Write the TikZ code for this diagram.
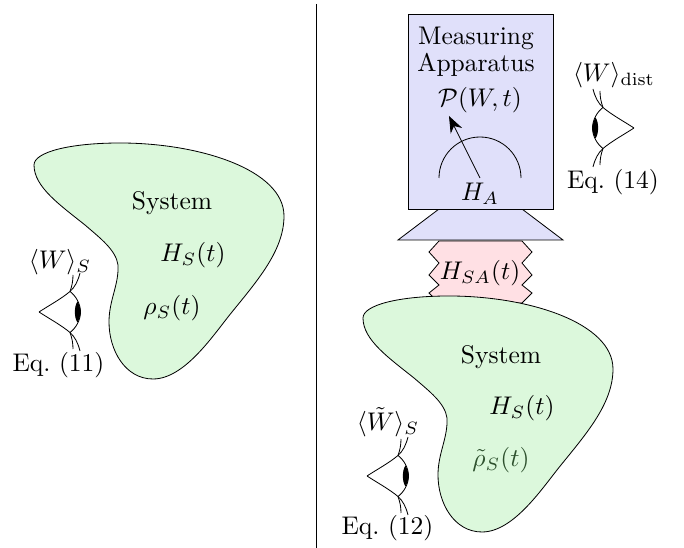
\documentclass[tikz,border=0pt]{standalone}
\usetikzlibrary{arrows.meta}
\definecolor{sysgreen}{RGB}{220,248,220}
\definecolor{appblue}{RGB}{224,224,250}
\definecolor{intpink}{RGB}{255,224,228}
\definecolor{rhogreen}{RGB}{45,80,45}
\newcommand{\blobpath}{(34,165) .. controls (34,152) and (70,143) .. (120,143)
  .. controls (200,143) and (284,170) .. (284,216)
  .. controls (284,250) and (258,280) .. (232,312)
  .. controls (214,334) and (185,379) .. (153,379)
  .. controls (125,379) and (109,350) .. (109,322)
  .. controls (109,300) and (119,285) .. (118,265)
  .. controls (116,250) and (100,238) .. (85,225)
  .. controls (60,205) and (34,187) .. (34,165) -- cycle}
\newcommand{\eyeshape}{%
  \draw[eyeline] (0,0) .. controls (-10,-6.5) and (-22,-13) .. (-31,-20.5)
     .. controls (-36,-25) and (-39,-31) .. (-41,-39);
  \draw[eyeline] (0,0) .. controls (-10,6.5) and (-22,13) .. (-31,20.5)
     .. controls (-36,25) and (-39,31) .. (-41,39);
  \draw[eyeline] (-31,-20.5) .. controls (-33,-26) and (-34,-31) .. (-34,-37);
  \draw[eyeline] (-31,20.5) .. controls (-33,26) and (-34,31) .. (-34,37);
  \draw[eyeline] (-31,-20.5) .. controls (-37,-16) and (-41.5,-8) .. (-41.5,0)
     .. controls (-41.5,8) and (-37,16) .. (-31,20.5);
  \fill (-38.5,-10.5) .. controls (-40.5,-7) and (-41.7,-3) .. (-41.7,0)
     .. controls (-41.7,3) and (-40.5,7) .. (-38.5,10.5)
     .. controls (-35,6) and (-35,-6) .. (-38.5,-10.5) -- cycle;
}
\tikzset{
  thinl/.style={line width=0.32pt},
  blob/.style={draw=black,fill=sysgreen,thinl},
  apparatus/.style={draw=black,fill=appblue,thinl},
  coupling/.style={draw=black,fill=intpink,thinl},
  eyeline/.style={thinl},
  lbl/.style={inner sep=0pt,anchor=center},
  pointer/.style={-{Stealth[length=6.5pt,width=5pt]},thinl}
}
\begin{document}
\begin{tikzpicture}[x=0.392pt,y=-0.392pt]
\useasboundingbox (0,0) rectangle (684,548);
% divider
\coordinate (divtop) at (316,4);
\coordinate (divbot) at (316,548);
\draw[thinl] (divtop) -- (divbot);
% left system
\draw[blob] \blobpath;
\node[lbl] (sysL) at (172,203) {System};
\node[lbl] (hsL) at (193,255) {$H_S(t)$};
\node[lbl] (rhoL) at (172,308) {$\rho_S(t)$};
\node[lbl] (wL) at (60,262) {$\langle W\rangle_S$};
\node[lbl] (eqL) at (58.5,365) {Eq.~(11)};
\begin{scope}[shift={(39,312)},xscale=-1]\eyeshape\end{scope}
% coupling
\draw[coupling] (439,241) -- (429,252) -- (439,263) -- (429,275) -- (439,285) -- (429,293) -- (439,303)
  -- (522,303) -- (532,293) -- (522,285) -- (532,275) -- (522,263) -- (532,252) -- (522,241) -- cycle;
\node[lbl] (hsa) at (480,273) {$H_{SA}(t)$};
% right system
\begin{scope}[shift={(329,153)}]\draw[blob] \blobpath;\end{scope}
\node[lbl] (sysR) at (501,357) {System};
\node[lbl] (hsR) at (522,408) {$H_S(t)$};
\node[lbl,text=rhogreen] (rhoR) at (501,460) {$\tilde\rho_S(t)$};
\node[lbl] (wR) at (388,422) {$\langle \tilde W\rangle_S$};
\node[lbl] (eqR) at (387.5,528) {Eq.~(12)};
\begin{scope}[shift={(367,476)},xscale=-1]\eyeshape\end{scope}
% apparatus
\draw[apparatus] (439,209) -- (522,209) -- (563,240) -- (398,240) -- cycle;
\draw[apparatus] (408,14) rectangle (553,209);
\node[lbl] (meas) at (476,38) {Measuring};
\node[lbl] (appa) at (476,65) {Apparatus};
\node[lbl] (prob) at (480,100) {$\mathcal{P}(W,t)$};
\node[lbl] (ha) at (480,194) {$H_A$};
\draw[thinl] (439,178) arc[start angle=180,end angle=360,radius=41];
\coordinate (needlebase) at (480,178);
\coordinate (needletip) at (449,116);
\draw[pointer] (needlebase) -- (needletip);
% right eye
\node[lbl] (wD) at (614,75) {$\langle W\rangle_{\mathrm{dist}}$};
\node[lbl] (eqD) at (613,182) {Eq.~(14)};
\begin{scope}[shift={(634,128)}]\eyeshape\end{scope}
\end{tikzpicture}
\end{document}
